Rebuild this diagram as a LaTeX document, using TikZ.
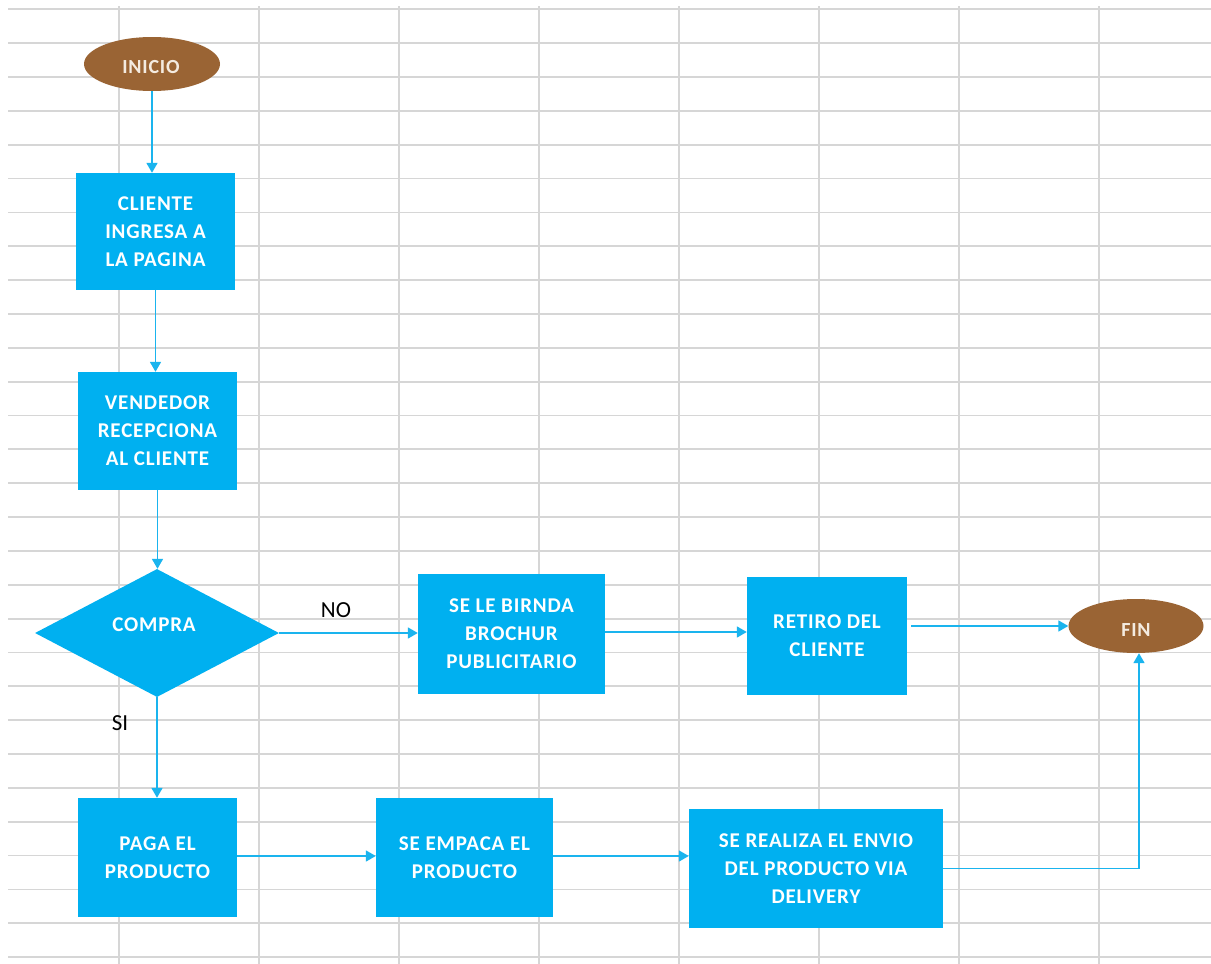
\documentclass[tikz,border=0pt]{standalone}
\usepackage{fontspec}
\setmainfont{Carlito}
\newfontfamily\boxfont[LetterSpace=4]{Carlito}
\usetikzlibrary{shapes.geometric,arrows.meta}
\definecolor{boxblue}{HTML}{00B0F0}
\definecolor{arrowblue}{HTML}{1AB4EE}
\definecolor{brownfill}{HTML}{9A6434}
\definecolor{gridgray}{HTML}{D6D6D6}
\definecolor{termtext}{HTML}{F4EBE0}
\tikzset{
  procbox/.style={rectangle, fill=boxblue, text=white, font=\boxfont\fontsize{21}{28}\selectfont\bfseries, align=center, inner sep=0pt},
  terminal/.style={ellipse, fill=brownfill, inner sep=0pt, minimum width=136pt, minimum height=54pt},
  termlabel/.style={text=termtext, font=\boxfont\fontsize{20}{24}\selectfont\bfseries, inner sep=0pt},
  decision/.style={diamond, fill=boxblue, inner sep=0pt, minimum width=244pt, minimum height=128pt, aspect=1.9},
  flow/.style={draw=arrowblue, line width=1.7pt, -{Triangle[width=11pt,length=10pt]}},
  lbl/.style={font=\fontsize{23}{26}\selectfont, text=black, inner sep=0pt},
  gridline/.style={draw=gridgray, line width=1.8pt}
}
\begin{document}
\begin{tikzpicture}[x=1pt,y=-1pt]
\useasboundingbox (0,0) rectangle (1211,964);
\fill[white] (0,0) rectangle (1211,964);
% grid
\foreach \i in {0,...,28} {
  \draw[gridline] (8,{9.3+\i*33.85}) -- (1211,{9.3+\i*33.85});
}
\foreach \x in {119,259,399,539,679,819,959,1099} {
  \draw[gridline] (\x,6) -- (\x,964);
}
% nodes
\node[terminal] (inicio) at (152,64) {};
\node[termlabel] (iniciotxt) at (151,67) {INICIO};
\node[procbox, minimum width=159pt, minimum height=117pt] (cliente) at (155.5,231.5) {CLIENTE\\INGRESA A\\LA PAGINA};
\node[procbox, minimum width=159pt, minimum height=118pt] (vendedor) at (157.5,431) {VENDEDOR\\RECEPCIONA\\AL CLIENTE};
\node[decision] (compra) at (157,633) {};
\node[font=\boxfont\fontsize{21}{28}\selectfont\bfseries, text=white, inner sep=0pt] (compratxt) at (154,625) {COMPRA};
\node[procbox, minimum width=187pt, minimum height=120pt] (brochur) at (511.5,634) {SE LE BIRNDA\\BROCHUR\\PUBLICITARIO};
\node[procbox, minimum width=160pt, minimum height=118pt] (retiro) at (827,636) {RETIRO DEL\\CLIENTE};
\node[terminal, minimum width=135pt] (fin) at (1136,626) {};
\node[termlabel] (fintxt) at (1136,630) {FIN};
\node[procbox, minimum width=159pt, minimum height=119pt] (paga) at (157.5,857.5) {PAGA EL\\PRODUCTO};
\node[procbox, minimum width=177pt, minimum height=119pt] (empaca) at (464.5,857.5) {SE EMPACA EL\\PRODUCTO};
\node[procbox, minimum width=254pt, minimum height=119pt] (delivery) at (816,868.5) {SE REALIZA EL ENVIO\\DEL PRODUCTO VIA\\DELIVERY};
\node[lbl] (no) at (336,610) {NO};
\node[lbl] (si) at (120,723) {SI};
% connectors
\draw[flow] (inicio.south) -- (inicio.south |- cliente.north);
\draw[flow] (cliente.south) -- (cliente.south |- vendedor.north);
\draw[flow] (vendedor.south) -- (vendedor.south |- compra.north);
\draw[flow] (compra.east) -- (compra.east -| brochur.west);
\draw[flow] (brochur.east |- 0,632) -- (retiro.west |- 0,632);
\coordinate (rstart) at ([xshift=4pt]retiro.east |- fin.west);
\draw[flow] (rstart) -- (fin.west);
\draw[flow] (compra.south) -- (compra.south |- paga.north);
\draw[flow] (paga.east |- 0,856) -- (empaca.west |- 0,856);
\draw[flow] (empaca.east |- 0,856) -- (delivery.west |- 0,856);
\draw[flow] (delivery.east) -- ([xshift=3pt]fin.south |- delivery.east) -- ([xshift=3pt]fin.south);
\end{tikzpicture}
\end{document}
